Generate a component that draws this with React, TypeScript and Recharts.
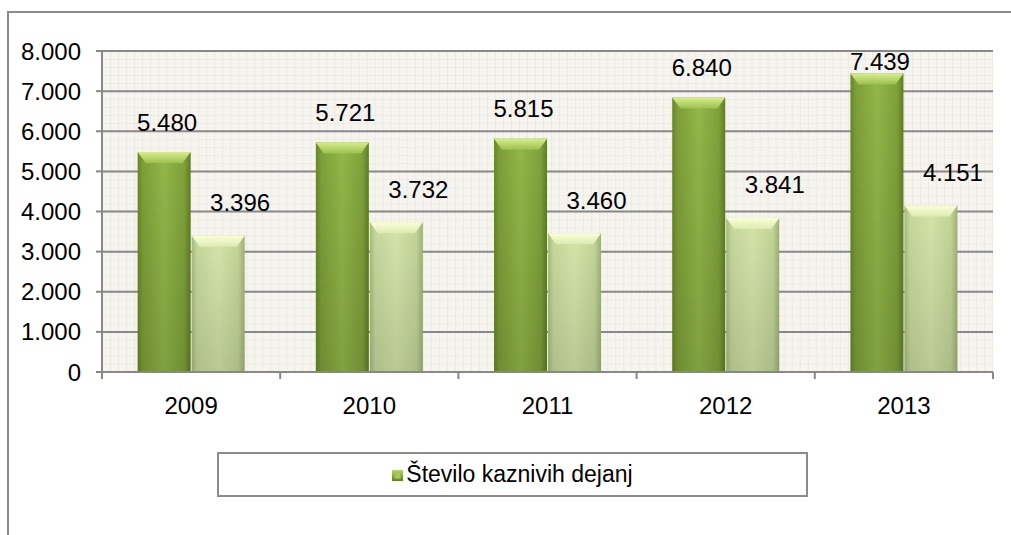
import React from 'react'
import { BarChart, Bar, XAxis, YAxis, CartesianGrid, LabelList } from 'recharts'

// values
const years = ['2009', '2010', '2011', '2012', '2013']
const crimes = [5480, 5721, 5815, 6840, 7439] // Število kaznivih dejanj
const other = [3396, 3732, 3460, 3841, 4151] // second series, not in legend
const yTicks = [0, 1000, 2000, 3000, 4000, 5000, 6000, 7000, 8000]
const legendName = 'Število kaznivih dejanj'

const data = years.map((year, i) => ({ year, crimes: crimes[i], other: other[i] }))

const W = 1011
const H = 535
const M = { top: 51, right: 18, left: 0, bottom: 123 }
const Y_AXIS_W = 102
const X_AXIS_H = 40
const PLOT_TOP = M.top
const PLOT_W = W - M.left - M.right - Y_AXIS_W
const GRID = '#888888'
const FONT = '"Liberation Sans", Arial, sans-serif'

const fmt = (v: number) =>
  v >= 1000 ? `${Math.floor(v / 1000)}.${String(v % 1000).padStart(3, '0')}` : String(v)

function BevelBar(props: any) {
  const { x, y, width, height, variant } = props
  if (!height || height <= 0) return null
  const b = Math.min(11, height)
  const inset = 8
  return (
    <g>
      <rect x={x} y={y} width={width} height={height} fill={`url(#${variant}H)`} />
      <rect x={x} y={y} width={width} height={height} fill="url(#shadeV)" />
      <polygon
        points={`${x},${y} ${x + width},${y} ${x + width - inset},${y + b} ${x + inset},${y + b}`}
        fill={`url(#${variant}Top)`}
      />
    </g>
  )
}

const makeLabel = (dx: number, lift: number) => (p: any) => {
  const { x, y, width, value } = p
  const cy = Math.max(y - lift, PLOT_TOP + 10)
  return (
    <text x={x + width / 2 + dx} y={cy} textAnchor="middle" dominantBaseline="central"
      fontSize={24} fill="#000" fontFamily={FONT}>
      {fmt(value)}
    </text>
  )
}

function XTick(props: any) {
  const { x, y, payload, index } = props
  const axisY = y - 7
  const band = PLOT_W / years.length
  return (
    <g>
      <line x1={x - band / 2} x2={x - band / 2} y1={axisY} y2={axisY + 7} stroke={GRID} strokeWidth={2} />
      {index === years.length - 1 && (
        <line x1={x + band / 2} x2={x + band / 2} y1={axisY} y2={axisY + 7} stroke={GRID} strokeWidth={2} />
      )}
      <text x={x} y={axisY + 42} textAnchor="middle" fontSize={24} fill="#000" fontFamily={FONT}>
        {payload.value}
      </text>
    </g>
  )
}

export default function App() {
  return (
    <div style={{ position: 'absolute', left: 0, top: 0, width: W, height: H, overflow: 'hidden', background: '#fff', fontFamily: FONT }}>
      <svg width={0} height={0} style={{ position: 'absolute' }}>
        <defs>
          <linearGradient id="darkH" x1="0" y1="0" x2="1" y2="0">
            <stop offset="0" stopColor="#67862a" />
            <stop offset="0.1" stopColor="#7e9f38" />
            <stop offset="0.5" stopColor="#92b749" />
            <stop offset="0.88" stopColor="#7fa13a" />
            <stop offset="1" stopColor="#5f7d26" />
          </linearGradient>
          <linearGradient id="darkTop" x1="0" y1="0" x2="0" y2="1">
            <stop offset="0" stopColor="#d6ee8c" />
            <stop offset="1" stopColor="#9cc04e" />
          </linearGradient>
          <linearGradient id="lightH" x1="0" y1="0" x2="1" y2="0">
            <stop offset="0" stopColor="#a7b980" />
            <stop offset="0.1" stopColor="#c6d89c" />
            <stop offset="0.5" stopColor="#d4e4a9" />
            <stop offset="0.88" stopColor="#c3d598" />
            <stop offset="1" stopColor="#9fb078" />
          </linearGradient>
          <linearGradient id="lightTop" x1="0" y1="0" x2="0" y2="1">
            <stop offset="0" stopColor="#fbffd6" />
            <stop offset="1" stopColor="#dcebb2" />
          </linearGradient>
          <linearGradient id="shadeV" x1="0" y1="0" x2="0" y2="1">
            <stop offset="0" stopColor="#000" stopOpacity={0} />
            <stop offset="1" stopColor="#000" stopOpacity={0.12} />
          </linearGradient>
          <linearGradient id="swatch" x1="0" y1="0" x2="0" y2="1">
            <stop offset="0" stopColor="#b9d66a" />
            <stop offset="1" stopColor="#5f7d26" />
          </linearGradient>
          <pattern id="minor" x={Y_AXIS_W} y={PLOT_TOP} width={8.02} height={8.02} patternUnits="userSpaceOnUse">
            <rect width={8.02} height={8.02} fill="#f6f4ef" />
            <path d="M0 0 H8.02 M0 0 V8.02" stroke="#e5e2d8" strokeWidth={1} fill="none" />
          </pattern>
        </defs>
      </svg>

      <div style={{ position: 'absolute', left: 7, top: 11, width: 1010, height: 530, border: '2px solid #8a8a8a', boxSizing: 'border-box' }} />

      <div style={{ position: 'absolute', left: 0, top: 0 }}>
        <BarChart width={W} height={H} data={data} margin={M} barCategoryGap="20%" barGap={1}>
          <CartesianGrid vertical={false} stroke={GRID} strokeWidth={2} fill="url(#minor)" fillOpacity={1} />
          <XAxis dataKey="year" height={X_AXIS_H} tick={<XTick />} tickLine={false} tickSize={7} tickMargin={0}
            axisLine={{ stroke: GRID, strokeWidth: 2 }} interval={0} />
          <YAxis width={Y_AXIS_W} domain={[0, 8000]} ticks={yTicks} tickFormatter={fmt} interval={0}
            tick={{ fontSize: 24, fill: '#000' }} tickSize={6} tickMargin={15}
            tickLine={{ stroke: GRID, strokeWidth: 2 }} axisLine={{ stroke: GRID, strokeWidth: 2 }} />
          <Bar dataKey="crimes" name={legendName} isAnimationActive={false}
            shape={(p: any) => <BevelBar {...p} variant="dark" />}>
            <LabelList dataKey="crimes" content={makeLabel(3, 30)} />
          </Bar>
          <Bar dataKey="other" isAnimationActive={false}
            shape={(p: any) => <BevelBar {...p} variant="light" />}>
            <LabelList dataKey="other" content={makeLabel(22, 33)} />
          </Bar>
        </BarChart>
      </div>

      <div style={{ position: 'absolute', left: 217, top: 452, width: 591, height: 45, border: '2px solid #8c8c8c', boxSizing: 'border-box', display: 'flex', alignItems: 'center', justifyContent: 'center', background: '#fff' }}>
        <svg width={11} height={11} style={{ marginRight: 3, marginTop: 2 }}>
          <rect x={0} y={0} width={11} height={11} fill="url(#swatch)" />
          <rect x={2.5} y={2.5} width={6} height={6} fill="#a4c65a" />
        </svg>
        <span style={{ fontSize: 23, color: '#000' }}>{legendName}</span>
      </div>
    </div>
  )
}
